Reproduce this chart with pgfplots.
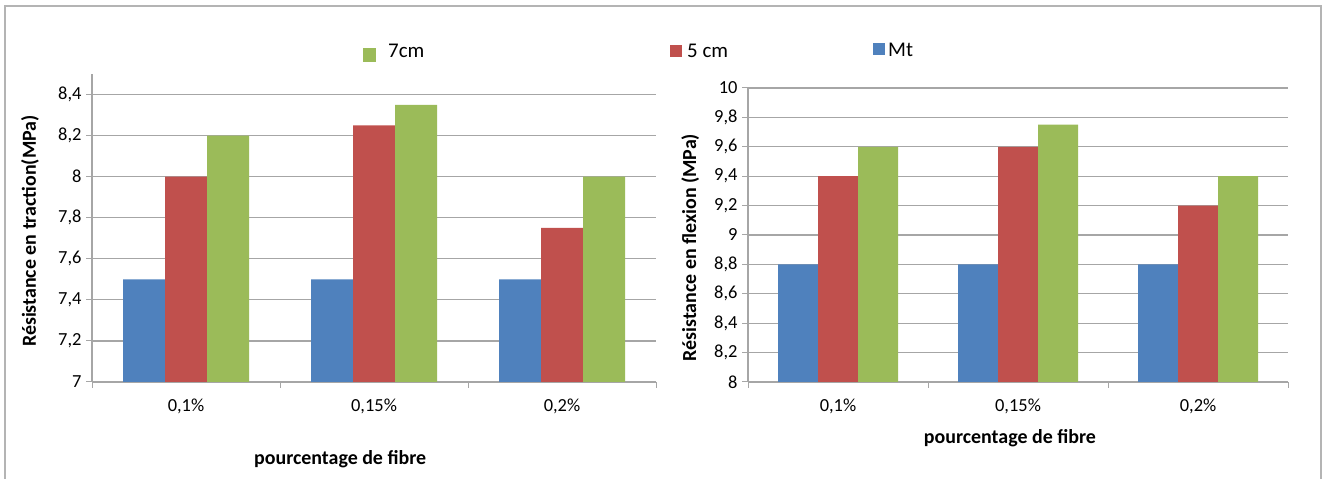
\documentclass[border=0pt]{standalone}
\usepackage{fontspec}
\setmainfont{Carlito}
\usepackage{pgfplots}
\pgfplotsset{compat=1.18}

\definecolor{mtblue}{HTML}{4F81BD}
\definecolor{cinqred}{HTML}{C0504D}
\definecolor{septgreen}{HTML}{9BBB59}
\definecolor{gridgray}{HTML}{A6A6A6}
\definecolor{framegray}{HTML}{B4B4B4}

\pgfplotsset{
  resbars/.style={
    scale only axis,
    anchor=south west,
    ybar=0pt,
    xmin=-0.5, xmax=2.5,
    xtick={0,1,2},
    xticklabels={{0,1\%},{0,15\%},{0,2\%}},
    minor xtick={-0.5,0.5,1.5,2.5},
    major x tick style={draw=none},
    minor x tick style={gridgray, line width=1bp},
    y tick style={gridgray, line width=1bp},
    tick align=outside,
    major tick length=6bp,
    minor tick length=6bp,
    axis x line*=bottom,
    axis y line*=left,
    axis line style={gridgray, line width=1.2bp, -},
    ymajorgrids,
    grid style={gridgray, line width=1.2bp},
    /pgf/number format/.cd, use comma, fixed, precision=1, assume math mode=true,
    /pgfplots/.cd,
    tick label style={font=\fontsize{18.5}{22}\selectfont, black},
    xticklabel style={yshift=-7bp},
    yticklabel style={xshift=-1bp},
    ylabel style={font=\bfseries\fontsize{20}{24}\selectfont, anchor=center},
    xlabel style={font=\bfseries\fontsize{20}{24}\selectfont, anchor=center},
    every axis plot/.append style={draw=none},
  }
}

\begin{document}
\begin{tikzpicture}[x=1bp,y=1bp]
\useasboundingbox (0,0) rectangle (1326,479);
% outer frame of the figure
\draw[line width=2.5bp, framegray] (5,0) -- (5,473) -- (1321,473) -- (1321,0);

% legend keys
\fill[septgreen] (363,417) rectangle (376,431);
\node[anchor=base west, inner sep=0pt, font=\fontsize{21}{25}\selectfont] at (388,421) {7cm};
\fill[cinqred] (670,422) rectangle (682,434);
\node[anchor=base west, inner sep=0pt, font=\fontsize{21}{25}\selectfont] at (687,421) {5 cm};
\fill[mtblue] (873,424) rectangle (885,436);
\node[anchor=base west, inner sep=0pt, font=\fontsize{21}{25}\selectfont] at (888,422) {Mt};

% tensile strength
\begin{axis}[resbars,
  at={(92bp,97bp)}, width=564bp, height=308bp,
  bar width=42bp,
  ymin=7, ymax=8.5,
  ytick={7,7.2,7.4,7.6,7.8,8,8.2,8.4},
  ylabel={Résistance en traction(MPa)},
  ylabel style={at={(axis description cs:-0.11,0.49)}},
  xlabel={pourcentage de fibre},
  xlabel style={at={(axis description cs:0.44,-0.25)}},
]
\addplot[fill=mtblue] coordinates {(0,7.5) (1,7.5) (2,7.5)};
\addplot[fill=cinqred] coordinates {(0,8) (1,8.25) (2,7.75)};
\addplot[fill=septgreen] coordinates {(0,8.2) (1,8.35) (2,8)};
\end{axis}

% flexural strength
\begin{axis}[resbars,
  at={(748bp,97bp)}, width=540bp, height=294bp,
  bar width=40bp,
  ymin=8, ymax=10,
  ytick={8,8.2,8.4,8.6,8.8,9,9.2,9.4,9.6,9.8,10},
  ylabel={Résistance en flexion (MPa)},
  ylabel style={at={(axis description cs:-0.107,0.457)}},
  xlabel={pourcentage de fibre},
  xlabel style={at={(axis description cs:0.485,-0.19)}},
]
\addplot[fill=mtblue] coordinates {(0,8.8) (1,8.8) (2,8.8)};
\addplot[fill=cinqred] coordinates {(0,9.4) (1,9.6) (2,9.2)};
\addplot[fill=septgreen] coordinates {(0,9.6) (1,9.75) (2,9.4)};
\end{axis}
\end{tikzpicture}
\end{document}
